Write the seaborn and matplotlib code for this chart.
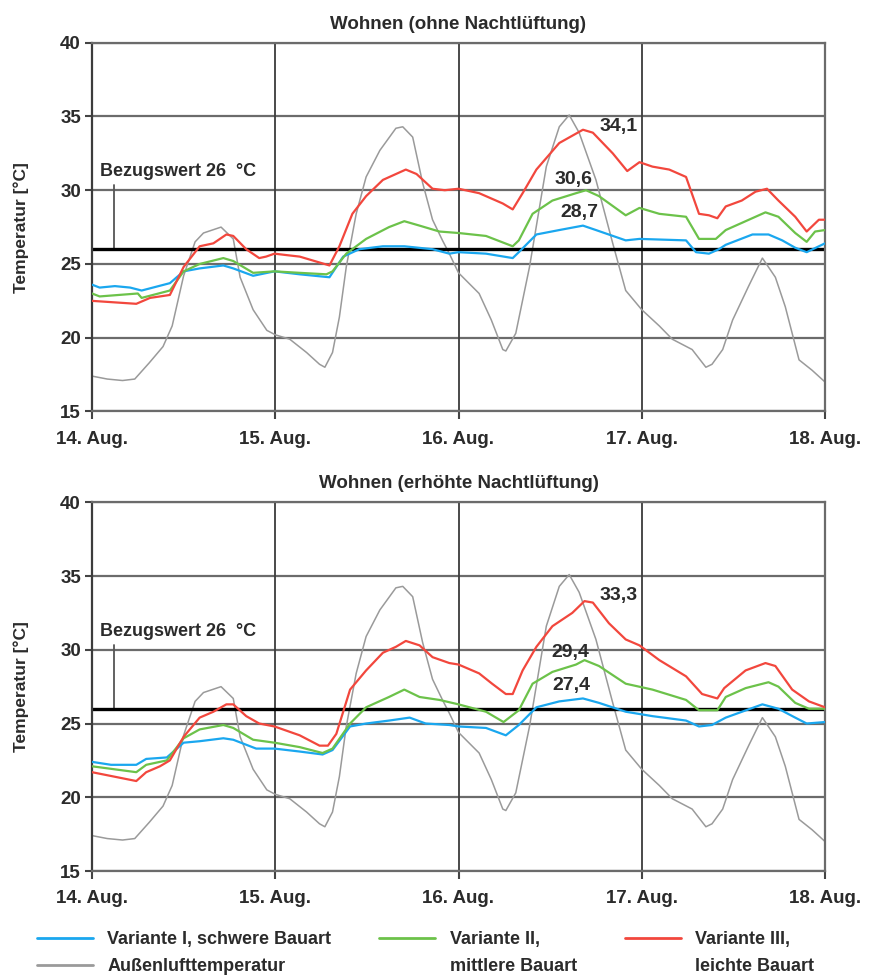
import numpy as np
import pandas as pd
import matplotlib
matplotlib.use("Agg")
import matplotlib.pyplot as plt
import seaborn as sns
from matplotlib.lines import Line2D

# ---------------- data (hours after 14 Aug 00:00, temperature °C) ----------------
day_labels = ["14. Aug.", "15. Aug.", "16. Aug.", "17. Aug.", "18. Aug."]
y_ticks = [15, 20, 25, 30, 35, 40]
bezugswert = 26

aussen_h = [0, 2, 4, 5.6, 7.5, 9.3, 10.5, 12, 13.5, 14.6, 16.9, 18.5, 19.4, 21.1, 22.9, 24,
            25.9, 28.1, 29.8, 30.5, 31.5, 32.4, 33.3, 34.6, 35.9, 37.7, 39.8, 40.7, 42, 43.3,
            44.6, 45.9, 46.8, 48, 50.7, 52.3, 53.8, 54.2, 55.5, 57.3, 59.5, 61.2, 62.5, 63.8,
            66, 68.2, 69.9, 72, 74.3, 76, 78.6, 80.4, 81.2, 82.6, 83.9, 86, 87.8, 89.5, 90.8,
            92.6, 94.3, 96]
aussen_t = [17.4, 17.2, 17.1, 17.2, 18.3, 19.4, 20.8, 24.2, 26.5, 27.1, 27.5, 26.7, 24.1, 21.9,
            20.5, 20.2, 19.9, 19.0, 18.2, 18.0, 19.0, 21.4, 24.8, 28.4, 30.9, 32.7, 34.2, 34.3,
            33.6, 30.5, 28.0, 26.6, 25.7, 24.4, 23.0, 21.2, 19.2, 19.1, 20.3, 24.8, 31.6, 34.3,
            35.1, 33.9, 30.7, 26.4, 23.2, 21.9, 20.8, 19.9, 19.2, 18.0, 18.2, 19.2, 21.2, 23.5,
            25.4, 24.1, 22.1, 18.5, 17.8, 17.0]

# --- Wohnen (ohne Nachtlüftung)
o_schwer_h = [0, 1, 3, 5, 6.5, 10.2, 12, 14.1, 17.2, 18.5, 21.1, 23.9, 27.2, 31.1, 32.9, 35,
              38.1, 40.9, 44.6, 46.8, 48, 51.6, 55.1, 55.9, 58.2, 61.2, 64.3, 66, 69.9, 71.7,
              77.8, 79.1, 80.8, 82.1, 83, 86.5, 88.6, 90.4, 92.1, 93.6, 95.2, 96]
o_schwer_t = [23.6, 23.4, 23.5, 23.4, 23.2, 23.7, 24.5, 24.7, 24.9, 24.7, 24.2, 24.5, 24.3,
              24.1, 25.5, 26.0, 26.2, 26.2, 26.0, 25.7, 25.8, 25.7, 25.4, 25.8, 27.0, 27.3,
              27.6, 27.3, 26.6, 26.7, 26.6, 25.8, 25.7, 26.0, 26.3, 27.0, 27.0, 26.6, 26.1,
              25.8, 26.2, 26.4]
o_mittel_h = [0, 1, 6, 6.5, 10.2, 12, 14.1, 17.2, 18.5, 21.1, 23.9, 27.2, 30.7, 31.5, 33.3,
              35.9, 38.9, 40.9, 42.9, 45.5, 48, 51.6, 55.1, 55.9, 57.7, 60.3, 63.4, 64.7, 66.4,
              69.9, 71.7, 74.3, 77.8, 79.5, 81.7, 83, 85.6, 88.2, 89.9, 92.1, 93.6, 94.7, 96]
o_mittel_t = [23.0, 22.8, 23.0, 22.7, 23.2, 24.5, 25.0, 25.4, 25.2, 24.4, 24.5, 24.4, 24.3,
              24.5, 25.7, 26.7, 27.5, 27.9, 27.6, 27.2, 27.1, 26.9, 26.2, 26.6, 28.4, 29.3,
              29.8, 30.0, 29.6, 28.3, 28.8, 28.4, 28.2, 26.7, 26.7, 27.3, 27.9, 28.5, 28.2,
              27.1, 26.5, 27.2, 27.3]
o_leicht_h = [0, 5.8, 7.6, 10.2, 12, 14.1, 15.9, 17.6, 18.5, 20.2, 21.9, 22.8, 23.9, 25.5,
              27.2, 31.1, 32.4, 34.1, 35.9, 38.1, 41.1, 42.5, 44.6, 46.2, 48, 50.7, 53.8, 55.1,
              56.4, 58.2, 61.2, 64.3, 65.6, 68.2, 70.1, 71.7, 73.4, 75.6, 77.8, 79.5, 80.8,
              81.9, 83, 85.1, 86.9, 88.4, 89.9, 92.1, 93.6, 95.2, 96]
o_leicht_t = [22.5, 22.3, 22.7, 22.9, 24.8, 26.2, 26.4, 27.0, 26.9, 26.0, 25.4, 25.5, 25.7,
              25.6, 25.5, 24.9, 26.2, 28.4, 29.6, 30.7, 31.4, 31.1, 30.1, 30.0, 30.1, 29.8,
              29.1, 28.7, 29.8, 31.4, 33.2, 34.1, 33.9, 32.5, 31.3, 31.9, 31.6, 31.4, 30.9,
              28.4, 28.3, 28.1, 28.9, 29.3, 29.9, 30.1, 29.3, 28.2, 27.2, 28.0, 28.0]

# --- Wohnen (erhöhte Nachtlüftung)
e_schwer_h = [0, 2.5, 5.8, 7.1, 9.8, 12, 14.1, 17.2, 18.5, 21.5, 23.9, 27.2, 30.2, 31.5, 33.8,
              35.9, 38.9, 41.6, 43.7, 46.8, 48, 51.6, 54.2, 55.9, 58.2, 61.2, 64.3, 66.4, 69.9,
              73.4, 77.8, 79.5, 81.2, 83, 87.8, 89.9, 92.1, 93.6, 96]
e_schwer_t = [22.4, 22.2, 22.2, 22.6, 22.7, 23.7, 23.8, 24.0, 23.9, 23.3, 23.3, 23.1, 22.9,
              23.2, 24.8, 25.0, 25.2, 25.4, 25.0, 24.9, 24.8, 24.7, 24.2, 24.9, 26.1, 26.5,
              26.7, 26.4, 25.8, 25.5, 25.2, 24.8, 24.9, 25.4, 26.3, 26.0, 25.4, 25.0, 25.1]
e_mittel_h = [0, 5.8, 7.1, 9.8, 12, 14.1, 17.2, 18.5, 21.1, 23.9, 27.2, 30.2, 31.5, 33.8, 35.9,
              38.9, 40.9, 42.9, 45.5, 48, 51.6, 53.9, 55.9, 57.7, 60.3, 63.4, 64.5, 66.4, 69.9,
              73.4, 77.8, 79.5, 81.9, 83, 85.6, 88.6, 89.9, 92.1, 93.9, 96]
e_mittel_t = [22.1, 21.7, 22.2, 22.5, 24.0, 24.6, 24.9, 24.7, 23.9, 23.7, 23.4, 23.0, 23.3,
              25.0, 26.1, 26.8, 27.3, 26.8, 26.6, 26.3, 25.8, 25.1, 25.9, 27.7, 28.5, 29.0,
              29.3, 28.9, 27.7, 27.3, 26.6, 25.9, 25.9, 26.8, 27.4, 27.8, 27.5, 26.4, 26.0, 26.0]
e_leicht_h = [0, 5.8, 7.1, 8.9, 10.2, 12, 14.1, 15.9, 17.6, 18.5, 20.2, 21.9, 23.9, 27.2, 29.8,
              30.9, 32, 33.8, 35.9, 38.1, 39.8, 41.1, 42.9, 44.6, 46.8, 48, 50.7, 52.4, 54.2,
              55.1, 56.4, 58.2, 60.3, 62.9, 64.5, 65.6, 67.7, 69.9, 71.7, 74.3, 77.8, 79.9,
              81.9, 82.8, 85.6, 88.2, 89.5, 91.7, 93.9, 96]
e_leicht_t = [21.7, 21.1, 21.7, 22.1, 22.5, 24.1, 25.4, 25.8, 26.3, 26.3, 25.5, 25.0, 24.8,
              24.2, 23.5, 23.5, 24.3, 27.3, 28.6, 29.8, 30.2, 30.6, 30.3, 29.5, 29.1, 29.0,
              28.4, 27.7, 27.0, 27.0, 28.6, 30.2, 31.6, 32.5, 33.3, 33.2, 31.8, 30.7, 30.3,
              29.3, 28.2, 27.0, 26.7, 27.4, 28.6, 29.1, 28.9, 27.3, 26.5, 26.1]

titles = ["Wohnen (ohne Nachtlüftung)", "Wohnen (erhöhte Nachtlüftung)"]
max_labels_top = [("34,1", 69.0, 34.3), ("30,6", 63.0, 30.7), ("28,7", 63.8, 28.5)]
max_labels_bottom = [("33,3", 69.0, 33.65), ("29,4", 62.7, 29.8), ("27,4", 62.8, 27.6)]

legend_labels = ["Variante I, schwere Bauart", "Außenlufttemperatur",
                 "Variante II,", "mittlere Bauart",
                 "Variante III,", "leichte Bauart"]

# ---------------- styling ----------------
c_blue = "#1aa7ef"
c_green = "#6cc24a"
c_red = "#f2473d"
c_gray = "#9a9a9a"

sns.set_theme(style="white")
plt.rcParams["font.family"] = ["Liberation Sans", "DejaVu Sans"]
text_col = "#2b2b2b"

fig = plt.figure(figsize=(8.71, 9.76), dpi=100)
W, H = 871, 976
ax1 = fig.add_axes([92 / W, 1 - 411.5 / H, 733 / W, 368.8 / H])
ax2 = fig.add_axes([92 / W, 1 - 871 / H, 733 / W, 368.7 / H])


def panel(ax, title, series, labels):
    ax.set_xlim(0, 4)
    ax.set_ylim(15, 40)
    ax.set_axisbelow(True)
    for yv in y_ticks:
        ax.axhline(yv, color="#6b6b6b", lw=1.6, zorder=0.5)
    for d in range(1, 4):
        ax.axvline(d, color="#3c3c3c", lw=1.3, zorder=0.5)
    for s in ax.spines.values():
        s.set_color("#6b6b6b")
        s.set_linewidth(1.6)
    ax.spines["left"].set_color("#3c3c3c")

    sns.lineplot(x=np.array(aussen_h) / 24, y=aussen_t, ax=ax, color=c_gray, lw=1.1,
                 estimator=None, sort=False, zorder=2)
    ax.axhline(bezugswert, color="black", lw=2.4, zorder=2.5)
    for (hh, tt, col) in series:
        sns.lineplot(x=np.array(hh) / 24, y=tt, ax=ax, color=col, lw=1.6,
                     estimator=None, sort=False, zorder=3)

    # Bezugswert marker
    ax.plot([2.92 / 24, 2.92 / 24], [30.35, bezugswert], color="#555555", lw=1.3, zorder=2)
    ax.text(1.05 / 24, 31.25, "Bezugswert 26  °C", fontsize=13, fontweight="bold",
            color=text_col, va="center", ha="left")

    for txt, hh, tt in labels:
        ax.text(hh / 24, tt, txt, fontsize=14, fontweight="bold", color=text_col,
                ha="center", va="center", zorder=4)

    ax.set_xticks(range(5))
    ax.set_xticklabels(day_labels)
    ax.set_yticks(y_ticks)
    ax.tick_params(axis="x", length=6, width=1.5, color="#444444", direction="out", pad=8,
                   labelsize=13.5, labelcolor=text_col, bottom=True)
    ax.tick_params(axis="y", length=5, width=1.5, color="#444444", direction="out", pad=3,
                   labelsize=13.5, labelcolor=text_col, left=True)
    for lab in ax.get_xticklabels() + ax.get_yticklabels():
        lab.set_fontweight("bold")
    ax.set_ylabel("Temperatur [°C]", fontsize=12.5, color=text_col, fontweight="bold")
    ax.yaxis.set_label_coords(-0.086, 0.5)
    ax.set_xlabel("")
    ax.set_title(title, fontsize=13.5, fontweight="bold", color=text_col, pad=10)


panel(ax1, titles[0], [(o_schwer_h, o_schwer_t, c_blue), (o_mittel_h, o_mittel_t, c_green),
                        (o_leicht_h, o_leicht_t, c_red)], max_labels_top)
panel(ax2, titles[1], [(e_schwer_h, e_schwer_t, c_blue), (e_mittel_h, e_mittel_t, c_green),
                        (e_leicht_h, e_leicht_t, c_red)], max_labels_bottom)

blank = Line2D([], [], color="none")
handles = [Line2D([], [], color=c_blue, lw=2), Line2D([], [], color=c_gray, lw=2),
           Line2D([], [], color=c_green, lw=2), blank,
           Line2D([], [], color=c_red, lw=2), blank]
leg = fig.legend(handles, legend_labels, ncol=3, loc="upper left",
                 bbox_to_anchor=(37 / W, 1 - 931 / H), frameon=False,
                 prop={"size": 13, "weight": "bold"},
                 handlelength=3.1, handletextpad=0.8, columnspacing=2.65,
                 labelspacing=0.55, borderpad=0, borderaxespad=0)
for t in leg.get_texts():
    t.set_color(text_col)

fig.savefig("out.png", dpi=100)
